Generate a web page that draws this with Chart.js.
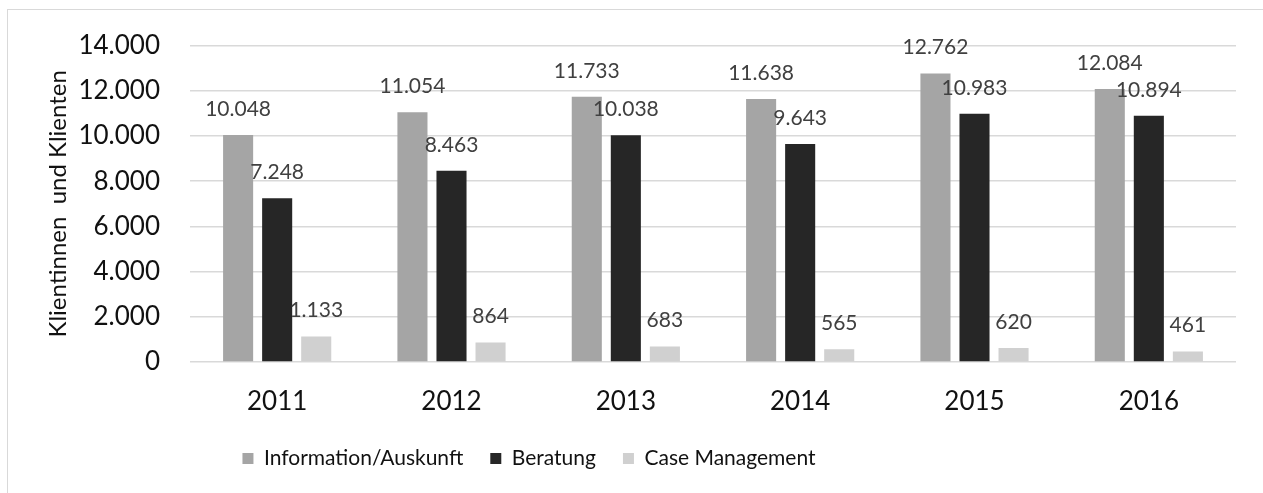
<!DOCTYPE html>
<html>
<head>
<meta charset="utf-8">
<script src="https://cdn.jsdelivr.net/npm/chart.js@4"></script>
<style>
  html, body { margin: 0; padding: 0; background: #fff; overflow: hidden; }
  #wrap { position: relative; width: 1263px; height: 493px; }
  #frame { position: absolute; left: 7px; top: 9px; width: 1300px; height: 600px; border: 1px solid #d9d9d9; }
  canvas { position: absolute; left: 0; top: 0; }
</style>
</head>
<body>
<div id="wrap">
  <div id="frame"></div>
  <canvas id="chart" width="1263" height="493"></canvas>
</div>
<script>
// DATA
const years = ["2011","2012","2013","2014","2015","2016"];
const infoData = [10048, 11054, 11733, 11638, 12762, 12084];
const beratungData = [7248, 8463, 10038, 9643, 10983, 10894];
const caseData = [1133, 864, 683, 565, 620, 461];

const seriesNames = ["Information/Auskunft", "Beratung", "Case Management"];
const seriesColors = ["#a5a5a5", "#262626", "#d0d0d0"];

const FONT = "Lato, 'Open Sans', sans-serif";
const nf = new Intl.NumberFormat("de-DE");

// value labels above bars + legend nudged left like the original
const barLabels = {
  id: "barLabels",
  afterLayout(chart) {
    const lg = chart.legend;
    lg.left -= 89;
    lg.right -= 89;
  },
  afterDatasetsDraw(chart) {
    const ctx = chart.ctx;
    ctx.save();
    ctx.font = "21px " + FONT;
    ctx.fillStyle = "#404040";
    ctx.textAlign = "center";
    ctx.textBaseline = "middle";
    chart.data.datasets.forEach((ds, i) => {
      chart.getDatasetMeta(i).data.forEach((bar, j) => {
        ctx.fillText(nf.format(ds.data[j]), bar.x, bar.y - 26);
      });
    });
    ctx.restore();
  }
};

let chart = new Chart(document.getElementById("chart"), {
  type: "bar",
  data: {
    labels: years,
    datasets: [infoData, beratungData, caseData].map((d, i) => ({
      label: seriesNames[i],
      data: d,
      backgroundColor: seriesColors[i],
      categoryPercentage: 0.672,
      barPercentage: 0.77
    }))
  },
  options: {
    responsive: false,
    animation: false,
    locale: "de-DE",
    layout: { padding: { top: 40, right: 27, bottom: 14, left: 0 } },
    plugins: {
      legend: {
        position: "bottom",
        labels: {
          color: "#111",
          font: { family: FONT, size: 21 },
          boxWidth: 11,
          boxHeight: 11,
          padding: 27
        }
      },
      tooltip: { enabled: false }
    },
    scales: {
      x: {
        grid: { display: false },
        border: { display: false },
        ticks: { color: "#111", font: { family: FONT, size: 26 }, padding: 16 },
        afterFit(s) { s.height = 59; }
      },
      y: {
        min: 0,
        max: 14000,
        ticks: { stepSize: 2000, color: "#111", font: { family: FONT, size: 26 }, padding: 30 },
        grid: { color: "#d9d9d9", lineWidth: 1.5, drawTicks: false },
        border: { display: false },
        title: {
          display: true,
          text: "Klientinnen  und Klienten",
          color: "#111",
          font: { family: FONT, size: 24 },
          padding: { top: 44, bottom: 0 }
        },
        afterFit(s) { s.width = 190; }
      }
    }
  },
  plugins: [barLabels]
});
</script>
</body>
</html>
